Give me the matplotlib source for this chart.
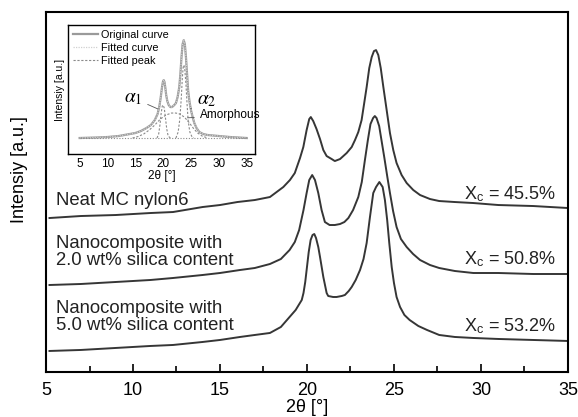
import numpy as np
import matplotlib
matplotlib.use('Agg')
import matplotlib.pyplot as plt
from matplotlib.ticker import MultipleLocator

plt.rcParams['font.family'] = ['Liberation Sans', 'DejaVu Sans']
plt.rcParams['mathtext.fontset'] = 'stix'

# ---- main XRD patterns (offset intensities, a.u.) ----
neat_x = [5.2, 7, 9, 11, 12.3, 14, 15, 16, 17, 17.87, 18.64, 19.02, 19.3, 19.6, 19.79,
          19.98, 20.13, 20.22, 20.36, 20.55, 20.75, 20.94, 21.13, 21.42, 21.6, 21.9,
          22.28, 22.57, 22.76, 22.95, 23.14, 23.29, 23.43, 23.58, 23.72, 23.85, 23.97,
          24.1, 24.24, 24.39, 24.58, 24.77, 24.96, 25.15, 25.44, 25.73, 26.11, 26.5,
          27.07, 27.6, 28.5, 29.56, 31, 33, 35]
neat_y = [154, 156, 157, 159, 160, 165, 167, 170, 172, 175, 185, 192, 199, 214, 225,
          242, 253, 255, 251, 243, 233, 222, 216, 213, 211, 213,
          219, 225, 232, 240, 252, 269, 285, 304, 315, 321, 322,
          317, 304, 285, 262, 239, 222, 209, 197, 189, 182, 177,
          173, 171, 170, 169, 167, 166, 164]

si2_x = [5.2, 7, 9, 11, 12.3, 14, 15, 16.15, 17, 17.87, 18.5, 19.0, 19.3, 19.55, 19.8,
         19.98, 20.13, 20.3, 20.46, 20.65, 20.84, 21.03, 21.3, 21.6, 21.9, 22.15, 22.38,
         22.65, 22.95, 23.15, 23.33, 23.5, 23.65, 23.8, 23.9, 24.0, 24.15, 24.3, 24.45,
         24.62, 24.77, 24.95, 25.15, 25.4, 25.73, 26.1, 26.5, 27.07, 27.6, 28.5, 29.56,
         31, 33, 35]
si2_y = [87, 88, 90, 92, 94, 97, 99, 102, 104, 108, 113, 122, 130, 142, 162,
         179, 192, 197, 192, 179, 162, 150, 147, 147, 148, 150, 154,
         162, 175, 190, 212, 232, 248, 254, 256, 254, 246, 230, 214,
         195, 179, 161, 145, 133, 125, 118, 112, 107, 104, 101, 99,
         99, 98, 98]

si5_x = [5.2, 7, 9, 11, 12.3, 14, 15, 16.15, 17, 17.87, 18.5, 19.0, 19.35, 19.7, 19.8,
         19.9, 19.98, 20.1, 20.21, 20.32, 20.42, 20.52, 20.65, 20.75, 20.94, 21.13,
         21.22, 21.5, 21.7, 22.0, 22.18, 22.4, 22.57, 22.8, 23.05, 23.25, 23.43, 23.62,
         23.81, 23.97, 24.16, 24.35, 24.48, 24.61, 24.73, 24.87, 25.0, 25.15, 25.35,
         25.6, 25.9, 26.4, 26.9, 27.6, 28.5, 29.56, 31, 33, 35]
si5_y = [21, 22, 24, 26, 27, 30, 32, 35, 37, 39, 45, 55, 62, 72, 79,
         90, 102, 120, 132, 137, 138, 134, 125, 115, 95, 79,
         76, 75, 75, 76, 77, 81, 85, 92, 102, 113, 129, 155,
         179, 185, 190, 185, 172, 152, 129, 105, 89, 75, 65,
         57, 52, 46, 42, 37, 35, 34, 33, 32, 31]

sample_labels = ['Neat MC nylon6',
                 'Nanocomposite with\n2.0 wt% silica content',
                 'Nanocomposite with\n5.0 wt% silica content']
label_y = [172, 120, 55]
xc_values = ['45.5%', '50.8%', '53.2%']
xc_y = [178, 113, 46]

# ---- inset: peak fitting of neat sample ----
ins_x = [5, 8, 10, 12, 14, 15, 16, 17, 17.8, 18.5, 19.0, 19.3, 19.55, 19.8, 19.95,
         20.1, 20.25, 20.4, 20.55, 20.75, 21.0, 21.3, 21.6, 22.0, 22.3, 22.6, 22.9,
         23.1, 23.3, 23.5, 23.7, 23.9, 24.1, 24.3, 24.5, 24.75, 25.0, 25.3, 25.6, 26.0,
         26.5, 27.2, 28, 30, 32, 35]
ins_orig = [16, 16.5, 17, 18, 20, 21, 23, 26, 29, 34, 40, 47, 56, 67, 72,
            74, 72, 66, 59, 53, 49, 47, 47, 49, 51, 57, 67,
            80, 97, 110, 114, 110, 97, 80, 63, 52, 44, 37, 31, 26,
            22, 20, 19, 18, 17, 16]
a1_x = [18.9, 19.2, 19.45, 19.65, 19.85, 20.0, 20.2, 20.4, 20.65, 20.9, 21.3]
a1_y = [16, 20, 30, 41, 48, 49, 46, 37, 25, 18, 16]
a2_x = [22.3, 22.7, 23.0, 23.25, 23.45, 23.6, 23.75, 23.9, 24.1, 24.3, 24.5, 24.8,
        25.2, 25.5]
a2_y = [16, 22, 35, 55, 76, 87, 89, 84, 70, 50, 33, 22, 17, 16]
am_x = [14.5, 15.5, 16.5, 17.5, 18.5, 19.5, 20.5, 21.5, 22.3, 23.0, 23.8, 24.6, 25.4,
        26.2, 27, 28]
am_y = [16, 17.5, 20, 24, 29, 35, 39, 41, 41, 40, 37, 32, 26, 21, 18, 16]
base_x = [5, 35]
base_y = [16, 16]

fig = plt.figure(figsize=(5.78, 4.17), dpi=100)
ax = fig.add_axes([0.0796, 0.108, 0.903, 0.863])

lc = '#363636'
for xs, ys in [(neat_x, neat_y), (si2_x, si2_y), (si5_x, si5_y)]:
    ax.plot(xs, ys, color=lc, lw=1.4, solid_joinstyle='round')

for txt, yy in zip(sample_labels, label_y):
    ax.text(5.6, yy, txt, fontsize=13.3, va='center', ha='left', linespacing=1.0,
            color='#222222')
for txt, yy in zip(xc_values, xc_y):
    ax.text(29.0, yy, r'X$_\mathregular{c}$ = ' + txt, fontsize=13, va='center',
            ha='left', color='#222222')

ax.set_xlim(5, 35)
ax.set_ylim(0, 360)
ax.xaxis.set_major_locator(MultipleLocator(5))
ax.xaxis.set_minor_locator(MultipleLocator(2.5))
ax.tick_params(axis='x', which='major', direction='in', length=6, width=1.2,
               labelsize=13, pad=7)
ax.tick_params(axis='x', which='minor', direction='in', length=4, width=1.2)
ax.tick_params(axis='y', left=False, labelleft=False)
for s in ax.spines.values():
    s.set_linewidth(1.5)
ax.set_xlabel('2θ [°]', fontsize=13, labelpad=0)
fig.text(20 / 578, 1 - 170 / 417, 'Intensiy [a.u.]', fontsize=13, rotation=90,
         ha='center', va='center')

# ---- inset ----
ins = fig.add_axes([0.1176, 0.6307, 0.3235, 0.309])
ins.plot(ins_x, ins_orig, color='#9a9a9a', lw=1.6, label='Original curve')
ins.plot(ins_x, ins_orig, color='#d0d0d0', lw=0.9, ls=(0, (1, 1)), label='Fitted curve')
ins.plot(a1_x, a1_y, color='#8a8a8a', lw=0.8, ls=(0, (2, 1.5)), label='Fitted peak')
ins.plot(a2_x, a2_y, color='#8a8a8a', lw=0.8, ls=(0, (2, 1.5)))
ins.plot(am_x, am_y, color='#8a8a8a', lw=0.8, ls=(0, (2, 1.5)))
ins.plot(base_x, base_y, color='#8a8a8a', lw=0.8, ls=(0, (1, 1.5)))

ins.annotate(r'$\alpha_1$', xy=(19.5, 44), xytext=(13.0, 56), fontsize=14,
             va='center', arrowprops=dict(arrowstyle='-', color='#555555', lw=0.6))
ins.annotate(r'$\alpha_2$', xy=(24.5, 44), xytext=(26.0, 54), fontsize=14,
             va='center', arrowprops=dict(arrowstyle='-', color='#555555', lw=0.6))
ins.annotate('Amorphous', xy=(23.9, 36), xytext=(26.6, 39), fontsize=8.5,
             va='center', arrowprops=dict(arrowstyle='-', color='#555555', lw=0.6))

ins.legend(loc='upper left', frameon=False, fontsize=7.8, handlelength=2.3,
           labelspacing=0.3, borderaxespad=0, borderpad=0, handletextpad=0.3,
           bbox_to_anchor=(5 / 187, 0.965))
ins.set_xlim(2.9, 36.5)
ins.set_ylim(0, 129)
ins.set_xticks([5, 10, 15, 20, 25, 30, 35])
ins.tick_params(axis='x', length=0, labelsize=8.5, pad=3)
ins.tick_params(axis='y', left=False, labelleft=False)
for s in ins.spines.values():
    s.set_linewidth(1.0)
ins.set_xlabel('2θ [°]', fontsize=8.5, labelpad=0)
ins.set_ylabel('Intensiy [a.u.]', fontsize=7.5, labelpad=2)

fig.savefig('out.png', dpi=100)
